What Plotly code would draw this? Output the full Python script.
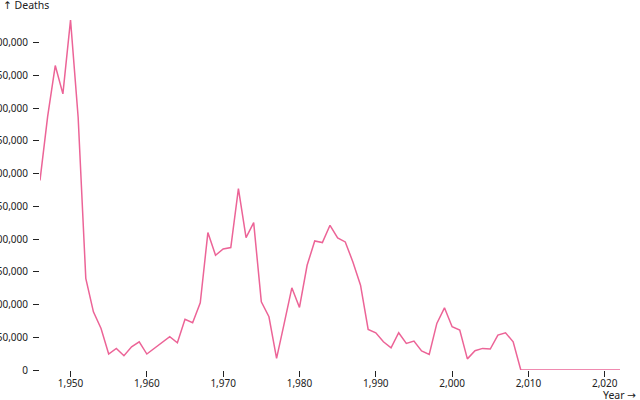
import plotly.graph_objects as go

years = list(range(1946, 2023))
deaths = [
    289600, 387000, 465000, 421800, 534600, 385700, 140000, 88900, 63500, 24400,
    33000, 21800, 35500, 43000, 24400, 33200, 41900, 50800, 41600, 77300,
    72100, 102600, 209900, 175300, 184900, 187000, 277000, 202300, 225100, 104100,
    81300, 17800, 71200, 125500, 95500, 160000, 197100, 194600, 221000, 201700,
    195600, 165100, 129600, 62000, 56900, 43100, 34000, 56900, 40700, 44200,
    29000, 23900, 71200, 95000, 66000, 61000, 17000, 29400, 33000, 32000,
    53300, 56900, 43100, 0, 0, 0, 0, 0, 0, 0,
    0, 0, 0, 0, 0, 0, 0,
]
x_ticks = list(range(1950, 2021, 10))

LINE_COLOR = "#ec6497"
FONT = "Noto Sans, Open Sans, sans-serif"
ARROW = "<span style='font-family:DejaVu Sans'>{}</span>"

fig = go.Figure()
fig.add_trace(
    go.Scatter(
        x=years,
        y=deaths,
        mode="lines",
        line=dict(color=LINE_COLOR, width=1.5),
        hoverinfo="x+y",
    )
)

fig.update_layout(
    width=640,
    height=400,
    margin=dict(l=40, r=20, t=20, b=30),
    paper_bgcolor="white",
    plot_bgcolor="white",
    showlegend=False,
    separators=".,",
    font=dict(family=FONT, size=10, color="#222"),
    annotations=[
        dict(
            text=ARROW.format("↑") + " Deaths", xref="paper", yref="paper",
            x=-0.068, y=1.043, xanchor="left", yanchor="middle",
            showarrow=False, font=dict(size=10.5, color="#222"),
        ),
        dict(
            text="Year " + ARROW.format("→"), xref="paper", yref="paper",
            x=1.031, y=-0.071, xanchor="right", yanchor="middle",
            showarrow=False, font=dict(size=10.5, color="#222"),
        ),
    ],
)
fig.update_xaxes(
    range=[1946, 2022],
    tickvals=x_ticks,
    tickformat=",",
    ticks="outside",
    ticklen=6,
    tickcolor="#222",
    ticklabelstandoff=-2,
    showgrid=False,
    zeroline=False,
    showline=False,
    automargin=False,
)
fig.update_yaxes(
    range=[0, max(deaths)],
    tick0=0,
    dtick=50000,
    tickformat=",",
    ticks="outside",
    ticklen=6,
    tickcolor="#222",
    ticklabelstandoff=3,
    showgrid=False,
    zeroline=False,
    showline=False,
    automargin=False,
)

fig.write_html(
    "out.html",
    config={"displayModeBar": False},
    post_script="document.body.style.margin='0';",
)
